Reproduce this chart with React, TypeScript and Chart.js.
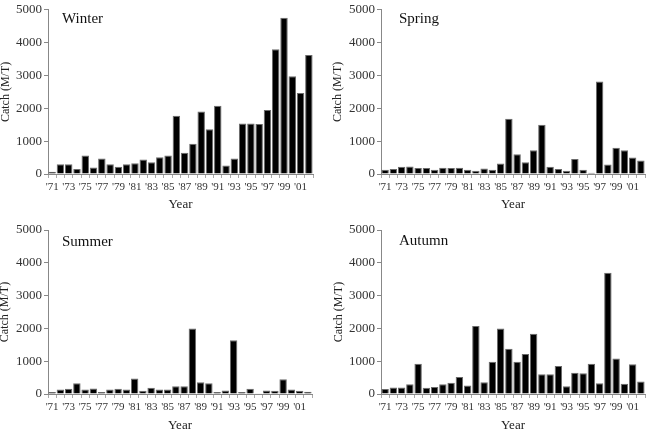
import React, { useEffect, useRef } from "react";
import { Chart, registerables } from "chart.js";

Chart.register(...registerables);

const years = [
  "1971","1972","1973","1974","1975","1976","1977","1978","1979","1980",
  "1981","1982","1983","1984","1985","1986","1987","1988","1989","1990",
  "1991","1992","1993","1994","1995","1996","1997","1998","1999","2000",
  "2001","2002",
];
const yTicks = [0, 1000, 2000, 3000, 4000, 5000];

const winter = [70,300,300,150,560,200,470,300,220,300,330,440,360,510,560,1770,650,920,1900,1360,2080,260,470,1540,1540,1520,1950,3800,4760,2980,2470,3620];
const spring = [130,150,220,230,180,180,130,190,180,190,130,100,170,130,320,1680,600,360,720,1500,220,150,100,460,130,40,2820,290,800,720,500,410];
const summer = [60,140,160,330,140,170,60,140,160,140,470,100,190,140,140,240,240,2000,360,330,60,110,1640,60,160,10,110,100,450,140,100,70];
const autumn = [150,200,200,300,920,190,210,300,340,520,260,2070,360,980,2000,1380,980,1220,1840,600,600,850,240,650,630,920,330,3700,1080,310,910,380];

const FONT = "'Liberation Serif', 'DejaVu Serif', serif";

type PanelProps = {
  name: string;
  data: number[];
  left: number;
  top: number;
  padTop: number;
  padRight: number;
  yWidth: number;
  xHeight: number;
  yTitlePad: number;
  xTitlePadBottom: number;
  labelX: number;
  labelY: number;
};

function Panel(p: PanelProps) {
  const ref = useRef<HTMLCanvasElement | null>(null);
  useEffect(() => {
    if (!ref.current) return;
    const chart = new Chart(ref.current, {
      type: "bar",
      data: {
        labels: years,
        datasets: [
          {
            data: p.data,
            backgroundColor: "#000000",
            borderColor: "#6a6a6a",
            borderWidth: 1,
            barPercentage: 0.9,
            categoryPercentage: 1,
          },
        ],
      },
      options: {
        responsive: false,
        animation: false,
        devicePixelRatio: 1,
        layout: { padding: { left: 0, top: p.padTop, right: p.padRight, bottom: 0 } },
        plugins: { legend: { display: false }, tooltip: { enabled: false } },
        scales: {
          x: {
            grid: { drawOnChartArea: false, drawTicks: true, tickLength: 4, color: "#aaaaaa", offset: true },
            border: { color: "#888888", width: 1 },
            ticks: {
              autoSkip: false,
              maxRotation: 0,
              minRotation: 0,
              padding: 3,
              color: "#333333",
              font: { family: FONT, size: 11 },
              callback: (_v: any, i: number) => (i % 2 === 0 ? "'" + years[i].slice(2) : ""),
            },
            title: {
              display: true,
              text: "Year",
              color: "#222222",
              font: { family: FONT, size: 13 },
              padding: { top: 0, bottom: p.xTitlePadBottom },
            },
            afterFit: (s: any) => {
              s.height = p.xHeight;
            },
          },
          y: {
            min: 0,
            max: 5000,
            afterBuildTicks: (s: any) => {
              s.ticks = yTicks.map((v) => ({ value: v }));
            },
            grid: { drawOnChartArea: false, drawTicks: true, tickLength: 4, color: "#888888" },
            border: { color: "#888888", width: 1 },
            ticks: {
              padding: 2,
              color: "#333333",
              font: { family: FONT, size: 13 },
              callback: (v: any) => String(v),
            },
            title: {
              display: true,
              text: "Catch (M/T)",
              color: "#222222",
              font: { family: FONT, size: 12, lineHeight: 1 },
              padding: { top: p.yTitlePad, bottom: 0 },
            },
            afterFit: (s: any) => {
              s.width = p.yWidth;
            },
          },
        },
      },
    });
    return () => chart.destroy();
  }, []);
  return (
    <div style={{ position: "absolute", left: p.left, top: p.top, width: 326, height: 217 }}>
      <canvas ref={ref} width={326} height={217} style={{ width: 326, height: 217, display: "block" }} />
      <div
        style={{
          position: "absolute",
          left: p.labelX,
          top: p.labelY,
          fontFamily: FONT,
          fontSize: 15,
          lineHeight: "16px",
          color: "#111111",
          whiteSpace: "nowrap",
        }}
      >
        {p.name}
      </div>
    </div>
  );
}

export default function App() {
  return (
    <div style={{ position: "fixed", left: 0, top: 0, width: 652, height: 434, background: "#ffffff", overflow: "hidden" }}>
      <Panel name="Winter" data={winter} left={0} top={0} padTop={8} padRight={13} yWidth={48} xHeight={43} yTitlePad={0} xTitlePadBottom={5} labelX={62} labelY={10} />
      <Panel name="Spring" data={spring} left={326} top={0} padTop={8} padRight={7} yWidth={55} xHeight={43} yTitlePad={6} xTitlePadBottom={5} labelX={73} labelY={10} />
      <Panel name="Summer" data={summer} left={0} top={217} padTop={13} padRight={14} yWidth={48} xHeight={40} yTitlePad={-1} xTitlePadBottom={1} labelX={62} labelY={16} />
      <Panel name="Autumn" data={autumn} left={326} top={217} padTop={13} padRight={7} yWidth={55} xHeight={40} yTitlePad={7} xTitlePadBottom={1} labelX={73} labelY={15} />
    </div>
  );
}
